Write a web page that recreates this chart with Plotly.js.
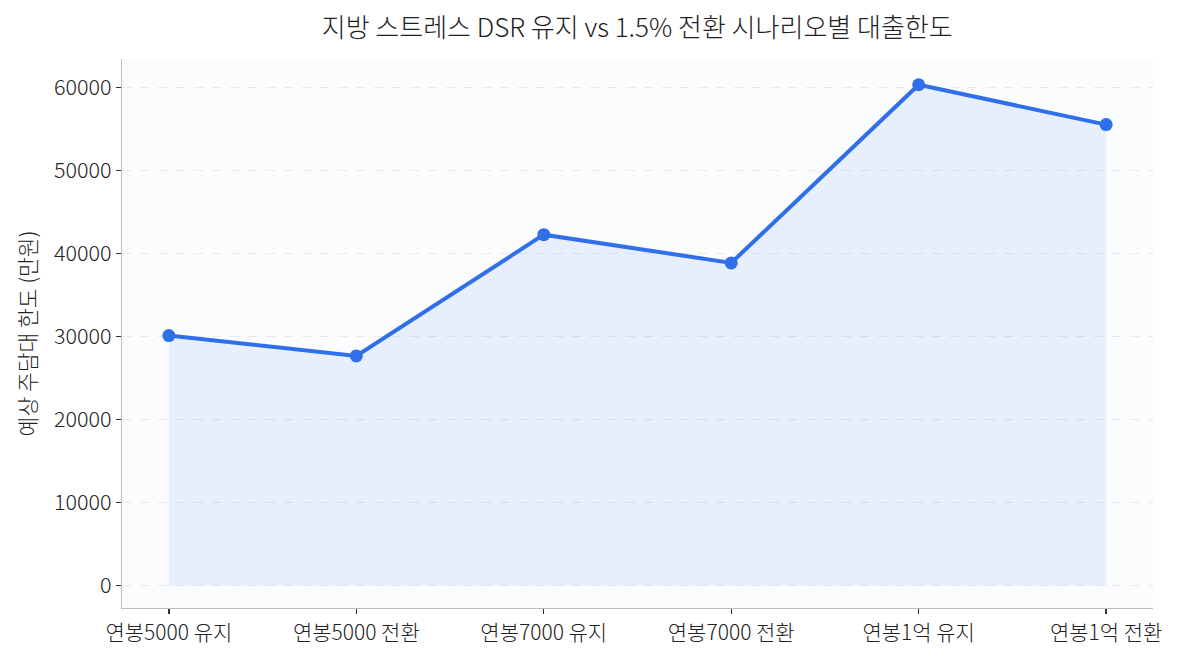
<!DOCTYPE html>
<html><head><meta charset="utf-8">
<script src="https://cdn.plot.ly/plotly-3.0.1.min.js"></script>
<style>html,body{margin:0;padding:0;background:#fff;}#chart{width:1180px;height:660px;}</style>
</head><body><div id="chart"></div>
<script>
const categories = ["연봉5000 유지","연봉5000 전환","연봉7000 유지","연봉7000 전환","연봉1억 유지","연봉1억 전환"];
const loanLimit = [30100, 27650, 42250, 38850, 60300, 55500];
const yTicks = [0,10000,20000,30000,40000,50000,60000];
const titleText = "지방 스트레스 DSR 유지 vs 1.5% 전환 시나리오별 대출한도";
const yTitle = "예상 주담대 한도 (만원)";

const font = "Noto Sans CJK KR, Noto Sans, sans-serif";
const xIdx = categories.map((c,i)=>i);

const traces = [
  {x: xIdx, y: loanLimit, type:"scatter", mode:"none", fill:"tozeroy",
   fillcolor:"rgba(49,116,235,0.09)", hoverinfo:"skip", showlegend:false},
  {x: xIdx, y: loanLimit, type:"scatter", mode:"lines+markers",
   line:{color:"#2f6fea", width:4}, marker:{color:"#2f6fea", size:13},
   showlegend:false}
];
const layout = {
  width:1180, height:660,
  margin:{l:122, r:27, t:59, b:52},
  paper_bgcolor:"#ffffff", plot_bgcolor:"#fafcfe",
  font:{family:font, color:"#222", size:21, weight:300},
  title:{text:titleText, x:0.54, xanchor:"center", y:0.958, yanchor:"middle", font:{family:font, size:26, color:"#222", weight:300}},
  xaxis:{range:[-0.25,5.25], tickmode:"array", tickvals:xIdx, ticktext:categories,
    showgrid:false, zeroline:false, showline:true, linecolor:"#bdbdbd", linewidth:1.3,
    ticks:"outside", ticklen:5, tickcolor:"#333", tickwidth:1.3, tickfont:{size:21, family:font, color:"#222", weight:300}},
  yaxis:{range:[-2700,63400], tickmode:"array", tickvals:yTicks, ticktext:yTicks.map(String),
    showgrid:true, gridcolor:"#e6e9ef", griddash:"dash", gridwidth:1, zeroline:false,
    showline:true, linecolor:"#bdbdbd", linewidth:1.3,
    ticks:"outside", ticklen:5, tickcolor:"#333", tickwidth:1.3, tickfont:{size:21.5, family:font, color:"#222", weight:300},
    title:{text:yTitle, standoff:11, font:{size:21.5, family:font, color:"#222", weight:300}}}
};
Plotly.newPlot("chart", traces, layout, {displayModeBar:false, staticPlot:true});
</script></body></html>
